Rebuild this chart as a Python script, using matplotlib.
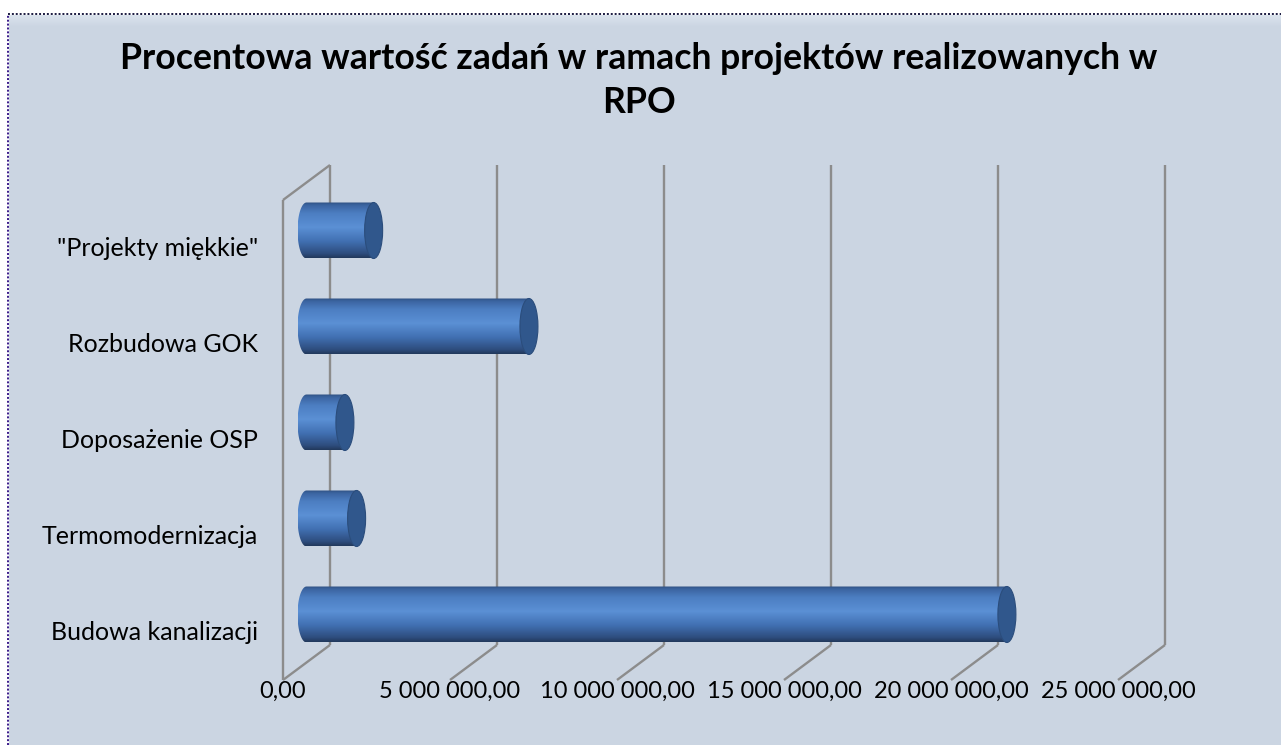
import numpy as np
import matplotlib
matplotlib.use("Agg")
import matplotlib.pyplot as plt
from matplotlib.colors import LinearSegmentedColormap
from matplotlib.patches import Ellipse, PathPatch, Rectangle
from matplotlib.path import Path
from matplotlib.lines import Line2D

# data
categories = ["Budowa kanalizacji", "Termomodernizacja", "Doposażenie OSP",
              "Rozbudowa GOK", '"Projekty miękkie"']
values = [20970000, 1500000, 1150000, 6660000, 2010000]
ticks = [0, 5000000, 10000000, 15000000, 20000000, 25000000]
tick_labels = ["0,00", "5 000 000,00", "10 000 000,00", "15 000 000,00",
               "20 000 000,00", "25 000 000,00"]
title = "Procentowa wartość zadań w ramach projektów realizowanych w\nRPO"

W, H = 1281, 745
plt.rcParams["font.family"] = ["Lato", "DejaVu Sans"]

fig = plt.figure(figsize=(W / 100, H / 100), dpi=100)
fig.patch.set_facecolor("white")

# chart area background + light band at the top
bg = "#CBD5E2"
fig.patches.append(Rectangle((8.5 / W, 0), 1, (H - 14.5) / H, transform=fig.transFigure,
                             facecolor=bg, edgecolor="none", zorder=-5))
band = np.linspace(0, 1, 50).reshape(-1, 1)
bax = fig.add_axes([8.5 / W, (H - 27) / H, 1, 12.5 / H])
bax.imshow(band, aspect="auto", cmap=LinearSegmentedColormap.from_list("b", ["#DCE4EE", bg]))
bax.axis("off")
# dotted outer border
fig.lines.append(Line2D([8 / W, 1], [(H - 14) / H] * 2, transform=fig.transFigure,
                        color="#1a1a40", lw=1.4, ls=(0, (1, 1)), zorder=5))
fig.lines.append(Line2D([8 / W] * 2, [0, (H - 14) / H], transform=fig.transFigure,
                        color="#3a1a8a", lw=1.4, ls=(0, (1, 1)), zorder=5))

fig.text(639 / W, 1 - 80.5 / H, title, ha="center", va="center", fontsize=25.7,
         fontweight="bold", linespacing=1.38, color="black")

# plot axes = mid-depth plane of the 3D box (a little room left of zero for the caps)
xmin, xmax = -1000000, 25000000
ppx = 835 / 25000000      # pixels per value unit
ppy = 480 / 5.0           # pixels per category unit
x0px = 306.5 + xmin * ppx
ax = fig.add_axes([x0px / W, (H - 662.5) / H, (xmax - xmin) * ppx / W, 480 / H])
ax.axis("off")

DX, DY = 23.5 / ppx, 17.5 / ppy   # half depth in data units


def pt(x, y, d):
    # d=+1 back wall, d=-1 front edge
    return x + d * DX, y + d * DY


grid = dict(color="#8C8C8C", lw=1.7, clip_on=False, solid_capstyle="butt", zorder=1)
for t in ticks:
    bx, by0 = pt(t, -0.5, 1)
    _, by1 = pt(t, 4.5, 1)
    ax.plot([bx, bx], [by0, by1], **grid)
    fx, fy = pt(t, -0.5, -1)
    ax.plot([fx, bx], [fy, by0], **grid)
# left side wall
fx, fy0 = pt(0, -0.5, -1)
_, fy1 = pt(0, 4.5, -1)
bx, by1 = pt(0, 4.5, 1)
ax.plot([fx, fx], [fy0, fy1], **grid)
ax.plot([fx, bx], [fy1, by1], **grid)

# tick labels along the front floor edge
for t, lab in zip(ticks, tick_labels):
    x, y = pt(t, -0.5, -1)
    ax.text(x, y - 11 / ppy, lab, ha="center", va="center", fontsize=17, clip_on=False)

# category labels
for i, c in enumerate(categories):
    x, y = pt(0, i, -1)
    ax.text(x - 25 / ppx, y, c, ha="right", va="center", fontsize=18, clip_on=False)

# cylinders
cyl = LinearSegmentedColormap.from_list("cyl", [
    (0.0, "#22395C"), (0.08, "#2E4D7E"), (0.3, "#4170B2"), (0.55, "#5B90D5"),
    (0.8, "#4C7EC2"), (0.95, "#3B64A0"), (1.0, "#2F5082")])
grad = np.linspace(0, 1, 200).reshape(-1, 1)
bh = 56 / ppy
cw = 18 / ppx
for i, v in enumerate(values):
    th = np.linspace(np.pi / 2, 3 * np.pi / 2, 40)
    left = np.column_stack([cw / 2 * np.cos(th), i + bh / 2 * np.sin(th)])
    verts = np.vstack([left, [[v, i - bh / 2], [v, i + bh / 2], left[0]]])
    body = PathPatch(Path(verts), facecolor="none", edgecolor="none", transform=ax.transData)
    ax.add_patch(body)
    im = ax.imshow(grad, extent=[-cw / 2, v, i - bh / 2, i + bh / 2], origin="lower",
                   aspect="auto", cmap=cyl, zorder=3, interpolation="bilinear")
    im.set_clip_path(body)
    ax.add_patch(Ellipse((v, i), cw, bh, facecolor="#30578C", edgecolor="#2B4D7C",
                         lw=0.8, zorder=4, clip_on=False))

ax.set_xlim(xmin, xmax)
ax.set_ylim(-0.5, 4.5)

fig.savefig("out.png", dpi=100)
